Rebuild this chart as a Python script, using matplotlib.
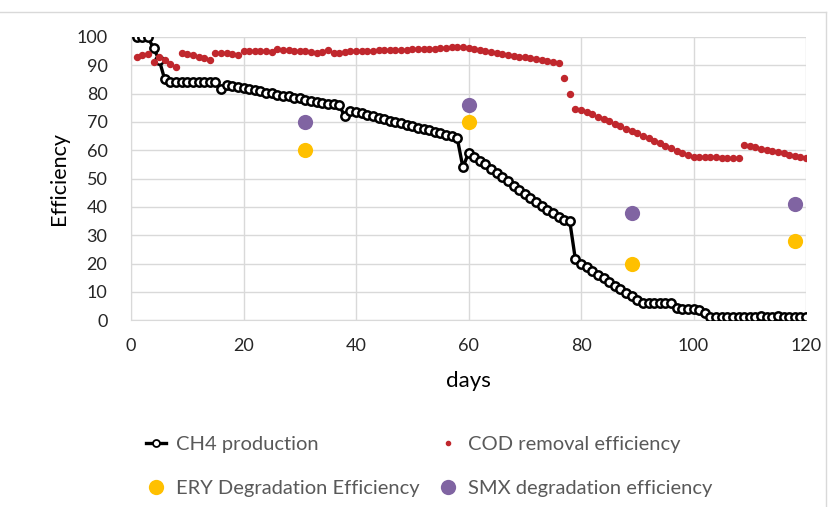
import matplotlib
matplotlib.use("Agg")
import matplotlib.pyplot as plt
from matplotlib.lines import Line2D

plt.rcParams['font.family'] = ['Lato', 'DejaVu Sans']

days = list(range(1, 121))

ch4 = [100, 100, 100, 96, 92, 85, 84, 84, 84, 84,
       84, 84, 84, 84, 84, 81.5, 83, 82.6, 82.2, 81.9,
       81.5, 81.2, 80.8, 80.4, 80.1, 79.7, 79.3, 79.0, 78.6, 78.3,
       77.9, 77.5, 77.2, 76.8, 76.5, 76.2, 76.0, 72.0, 74.0, 73.5,
       73.0, 72.5, 72.0, 71.5, 71.0, 70.5, 70.0, 69.5, 69.0, 68.5,
       68.0, 67.5, 67.0, 66.5, 66.0, 65.5, 65.0, 64.3, 54.0, 59.0,
       57.6, 56.3, 55.0, 53.5, 52.0, 50.5, 49.0, 47.5, 46.0, 44.6,
       43.2, 41.8, 40.4, 39.0, 37.7, 36.5, 35.5, 35.0, 21.5, 20.0,
       18.8, 17.5, 16.0, 14.8, 13.5, 12.2, 11.0, 9.8, 8.5, 7.3,
       6.0, 6.0, 6.0, 6.0, 6.0, 6.0, 4.3, 4.0, 4.0, 4.0,
       3.8, 2.5, 1.0, 1.0, 1.2, 1.0, 1.0, 1.0, 1.0, 1.0,
       1.0, 1.5, 1.2, 1.0, 1.5, 1.0, 1.0, 1.0, 1.0, 1.0]

cod = [93.0, 93.5, 94.0, 91.0, 93.0, 92.0, 90.5, 89.5, 94.5, 94.0,
       93.5, 93.0, 92.5, 92.0, 94.5, 94.5, 94.3, 94.0, 93.6, 95.0,
       95.0, 95.0, 95.2, 95.2, 94.8, 95.7, 95.5, 95.4, 95.2, 95.2,
       95.0, 94.7, 94.5, 94.7, 95.5, 94.5, 94.5, 94.8, 95.2, 95.1,
       95.1, 95.2, 95.2, 95.3, 95.3, 95.4, 95.4, 95.5, 95.5, 95.6,
       95.6, 95.8, 95.8, 95.9, 96.0, 96.1, 96.3, 96.6, 96.3, 96.0,
       95.7, 95.3, 95.0, 94.6, 94.3, 94.0, 93.7, 93.4, 93.1, 92.8,
       92.5, 92.2, 91.9, 91.6, 91.3, 90.8, 85.5, 80.0, 74.5, 74.3,
       73.5, 72.7, 71.9, 71.0, 70.2, 69.3, 68.5, 67.7, 66.8, 66.0,
       65.1, 64.3, 63.4, 62.5, 61.6, 60.8, 59.9, 59.0, 58.3, 57.8,
       57.8, 57.6, 57.6, 57.5, 57.4, 57.3, 57.2, 57.2, 61.8, 61.4,
       61.0, 60.6, 60.2, 59.8, 59.3, 58.9, 58.5, 58.1, 57.8, 57.4]

deg_days = [31, 60, 89, 118]
ery = [60, 70, 20, 28]
smx = [70, 76, 38, 41]

fig = plt.figure(figsize=(8.35, 5.07), dpi=100)
ax = fig.add_axes([131/835, 1-320.3/507, (806-131)/835, (320.3-37)/507])

grid_c = '#d9d9d9'
ax.plot(days, ch4, color='black', lw=2.4, marker='o', ms=6, mfc='white',
        mec='black', mew=1.8, zorder=3)
ax.plot(days, cod, ls='none', marker='o', ms=4.3, color='#C0272D', zorder=4)
ax.scatter(deg_days, ery, s=120, color='#FFC000', zorder=5, linewidths=0)
ax.scatter(deg_days, smx, s=120, color='#8064A2', zorder=5, linewidths=0)

ax.set_xlim(0, 120)
ax.set_ylim(0, 100)
ax.set_xticks(range(0, 121, 20))
ax.set_yticks(range(0, 101, 10))
ax.grid(True, color=grid_c, lw=1.0, zorder=0)
ax.set_axisbelow(True)
for s in ['top', 'right']:
    ax.spines[s].set_visible(False)
ax.spines['left'].set_color(grid_c)
ax.spines['bottom'].set_color(grid_c)
ax.tick_params(axis='y', length=0, labelsize=13, colors='#262626', pad=17)
ax.tick_params(axis='x', length=0, labelsize=13, colors='#262626', pad=13)
ax.set_xlabel('days', fontsize=16, labelpad=12)
ax.set_ylabel('Efficiency', fontsize=15.5, labelpad=5)

handles = [
    Line2D([], [], color='black', lw=2.4, marker='o', ms=5, mfc='white', mec='black', mew=1.3),
    Line2D([], [], ls='none', marker='o', ms=11, color='#FFC000', mew=0),
    Line2D([], [], ls='none', marker='o', ms=3, color='#C0272D'),
    Line2D([], [], ls='none', marker='o', ms=11, color='#8064A2', mew=0),
]
labels = ['CH4 production', 'ERY Degradation Efficiency',
          'COD removal efficiency', 'SMX degradation efficiency']
leg = fig.legend(handles, labels, ncol=2, loc='upper left',
                 bbox_to_anchor=(138/835, 1-428/507), frameon=False,
                 fontsize=14.5, handlelength=1.0, handletextpad=0.5,
                 columnspacing=0.9, labelspacing=1.35, borderaxespad=0)
for t in leg.get_texts():
    t.set_color('#595959')

# outer chart border
fig.add_artist(Line2D([0, 826/835], [1-12/507, 1-12/507], color=grid_c, lw=1))
fig.add_artist(Line2D([826/835, 826/835], [1-12/507, 0], color=grid_c, lw=1))

fig.savefig('out.png', dpi=100)
